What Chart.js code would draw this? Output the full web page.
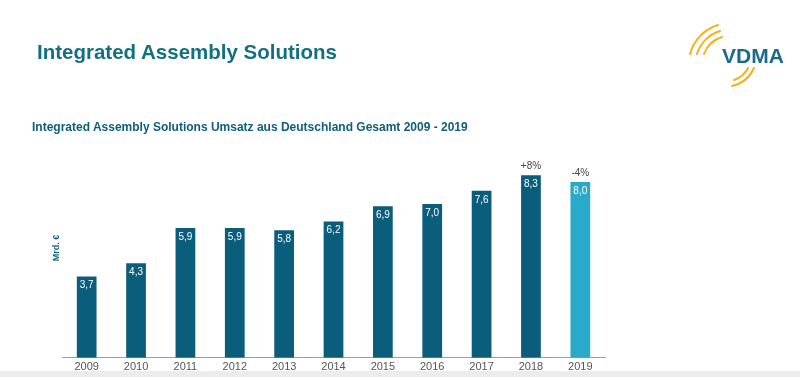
<!DOCTYPE html>
<html>
<head>
<meta charset="utf-8">
<script src="https://cdn.jsdelivr.net/npm/chart.js@4"></script>
<style>
  body { margin: 0; background: #fff; font-family: "Liberation Sans", Arial, sans-serif; }
  #wrap { position: relative; width: 800px; height: 377px; overflow: hidden; }
  #chart { position: absolute; left: 0; top: 0; }
  .title { position: absolute; left: 37px; top: 40px; font-size: 20.5px; font-weight: bold; color: #137080; }
  .subtitle { position: absolute; left: 32px; top: 120px; font-size: 12px; font-weight: bold; color: #0d5f79; }
  .ylab { position: absolute; left: 36px; top: 243px; width: 40px; text-align: center; font-size: 9px; font-weight: bold; color: #0d5f79; transform: rotate(-90deg); }
  .logo { position: absolute; left: 680px; top: 14px; width: 120px; height: 80px; }
  .logo span { position: absolute; left: 42px; top: 30px; font-size: 21px; font-weight: bold; color: #1a6a8c; letter-spacing: 0px; }
  .band { position: absolute; left: 0; top: 371px; width: 800px; height: 6px; background: #ececec; }
</style>
</head>
<body>
<div id="wrap">
  <canvas id="chart" width="800" height="377"></canvas>
  <div class="title">Integrated Assembly Solutions</div>
  <div class="subtitle">Integrated Assembly Solutions Umsatz aus Deutschland Gesamt 2009 - 2019</div>
  <div class="ylab">Mrd. €</div>
  <div class="logo">
    <svg width="120" height="80" viewBox="0 0 120 80">
      <g fill="none" stroke="#f2b21e" stroke-width="2" stroke-linecap="round">
        <path d="M 10 40 A 42 42 0 0 1 38 11" />
        <path d="M 17 40 A 35 35 0 0 1 40 17" />
        <path d="M 24 40 A 28 28 0 0 1 42 23" />
        <path d="M 52 72 A 32 32 0 0 0 74 54" />
        <path d="M 54 66 A 24 24 0 0 0 68 54" />
      </g>
    </svg>
    <span>VDMA</span>
  </div>
  <div class="band"></div>
</div>
<script>
const years = ['2009','2010','2011','2012','2013','2014','2015','2016','2017','2018','2019'];
const umsatz = [3.7, 4.3, 5.9, 5.9, 5.8, 6.2, 6.9, 7.0, 7.6, 8.3, 8.0];
const valueLabels = ['3,7','4,3','5,9','5,9','5,8','6,2','6,9','7,0','7,6','8,3','8,0'];
const changeLabels = ['','','','','','','','','','+8%','-4%'];

const darkBlue = '#0b5d7c';
const lightBlue = '#2aaacb';

const barLabels = {
    id: 'barLabels',
    afterDatasetsDraw(chart) {
        const ctx = chart.ctx;
        const meta = chart.getDatasetMeta(0);
        ctx.save();
        ctx.textAlign = 'center';
        ctx.textBaseline = 'middle';
        meta.data.forEach((bar, i) => {
            ctx.font = '10px "Liberation Sans", Arial, sans-serif';
            ctx.fillStyle = '#ffffff';
            ctx.fillText(valueLabels[i], bar.x, bar.y + 9);
            if (changeLabels[i]) {
                ctx.fillStyle = '#444';
                ctx.fillText(changeLabels[i], bar.x, bar.y - 9);
            }
        });
        ctx.restore();
    }
};

new Chart(document.getElementById('chart').getContext('2d'), {
    type: 'bar',
    data: {
        labels: years,
        datasets: [{
            data: umsatz,
            backgroundColor: umsatz.map((v, i) => i === umsatz.length - 1 ? lightBlue : darkBlue),
            barPercentage: 0.4,
            categoryPercentage: 1.0
        }]
    },
    options: {
        responsive: false,
        animation: false,
        layout: { padding: { left: 62, right: 195, top: 138, bottom: 0 } },
        plugins: { legend: { display: false }, tooltip: { enabled: false } },
        scales: {
            y: { display: false, min: 0, max: 10 },
            x: {
                grid: { display: false, drawTicks: false },
                border: { display: true, color: '#8fa3ab', width: 1 },
                ticks: { color: '#555', padding: 3, font: { family: '"Liberation Sans", Arial, sans-serif', size: 11 } }
            }
        }
    },
    plugins: [barLabels]
});
</script>
</body>
</html>
